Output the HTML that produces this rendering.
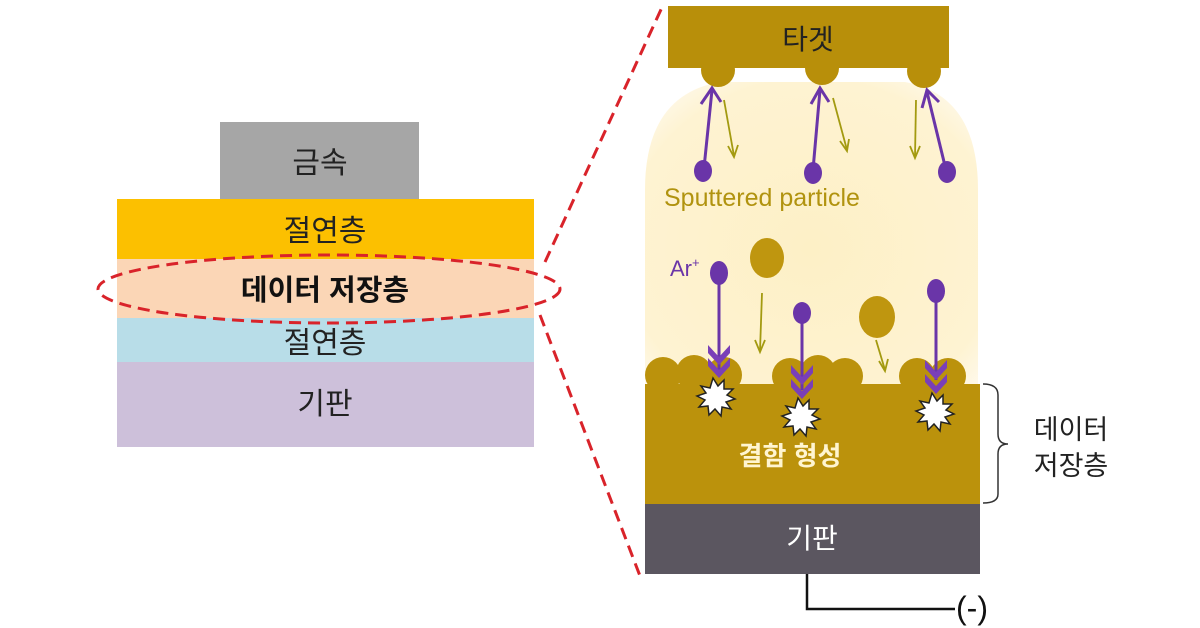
<!DOCTYPE html>
<html><head><meta charset="utf-8"><style>
html,body{margin:0;padding:0;background:#fff;}
svg{display:block;font-family:"Liberation Sans","Noto Sans CJK KR",sans-serif;}
</style></head><body>
<svg width="1200" height="628" viewBox="0 0 1200 628" xmlns="http://www.w3.org/2000/svg">
<defs>
<radialGradient id="pl" cx="0.5" cy="0.55" r="0.7">
<stop offset="0" stop-color="#fdf0c6"/><stop offset="0.8" stop-color="#fef3d2"/><stop offset="1" stop-color="#fffaf0"/>
</radialGradient>
</defs>
<!-- left stack -->
<rect x="220" y="122" width="199" height="77" fill="#a6a6a6"/>
<text x="320" y="173" font-size="30" text-anchor="middle" fill="#222">금속</text>
<rect x="117" y="199" width="417" height="60" fill="#fcc000"/>
<text x="325" y="241" font-size="30" text-anchor="middle" fill="#222">절연층</text>
<rect x="117" y="259" width="417" height="59" fill="#fbd6b6"/>
<text x="325" y="300" font-size="29" font-weight="bold" text-anchor="middle" fill="#111">데이터 저장층</text>
<rect x="117" y="318" width="417" height="44" fill="#b8dde8"/>
<text x="325" y="353" font-size="30" text-anchor="middle" fill="#222">절연층</text>
<rect x="117" y="362" width="417" height="85" fill="#cdc0da"/>
<text x="325" y="414" font-size="30" text-anchor="middle" fill="#222">기판</text>
<ellipse cx="329" cy="289" rx="231" ry="34" fill="none" stroke="#d9232a" stroke-width="3" stroke-dasharray="12,7"/>
<line x1="545" y1="262" x2="664" y2="3" stroke="#d9232a" stroke-width="3" stroke-dasharray="12,7"/>
<line x1="540" y1="315" x2="640" y2="576" stroke="#d9232a" stroke-width="3" stroke-dasharray="12,7"/>
<!-- plasma -->
<path d="M645,385 L645,190 Q645,95 720,82 L905,82 Q978,95 978,190 L978,385 Z" fill="url(#pl)"/>
<!-- target -->
<circle cx="718" cy="70" r="17" fill="#b88f0a"/>
<circle cx="822" cy="68" r="17" fill="#b88f0a"/>
<circle cx="924" cy="71" r="17" fill="#b88f0a"/>
<rect x="668" y="6" width="281" height="62" fill="#b88f0a"/>
<text x="808" y="49" font-size="28" text-anchor="middle" fill="#222">타겟</text>
<!-- upward purple arrows -->
<g stroke="#6a35a8" stroke-width="3" fill="none">
<line x1="704" y1="168" x2="712" y2="90"/><path d="M701,104 L712,88 L721,102"/>
<line x1="813" y1="170" x2="820" y2="90"/><path d="M811,104 L820,88 L829,102"/>
<line x1="946" y1="170" x2="927" y2="92"/><path d="M922,108 L927,90 L939,102"/>
</g>
<g fill="#6a35a8">
<ellipse cx="703" cy="171" rx="9" ry="11"/><ellipse cx="813" cy="173" rx="9" ry="11"/><ellipse cx="947" cy="172" rx="9" ry="11"/>
</g>
<g stroke="#a39a10" stroke-width="1.8" fill="none">
<line x1="724" y1="100" x2="734" y2="156"/><path d="M728,146 L734,157 L738,145"/>
<line x1="833" y1="98" x2="847" y2="150"/><path d="M840,141 L847,151 L849,139"/>
<line x1="916" y1="100" x2="915" y2="157"/><path d="M910,146 L915,158 L920,146"/>
<line x1="762" y1="293" x2="760" y2="351"/><path d="M755,340 L760,352 L765,340"/>
<line x1="876" y1="340" x2="885" y2="370"/><path d="M879,361 L885,371 L888,359"/>
</g>
<text x="664" y="206" font-size="25" fill="#b1930f">Sputtered particle</text>
<text x="670" y="276" font-size="22" fill="#6a35a8">Ar<tspan font-size="13" dy="-9">+</tspan></text>
<ellipse cx="767" cy="258" rx="17" ry="20" fill="#bf960f"/>
<ellipse cx="877" cy="317" rx="18" ry="21" fill="#bf960f"/>
<!-- layer -->
<g fill="#bb920c">
<rect x="645" y="384" width="335" height="121"/>
<circle cx="663" cy="375" r="18"/><circle cx="694" cy="373" r="18"/><circle cx="724" cy="375" r="18"/>
<circle cx="790" cy="376" r="18"/><circle cx="818" cy="373" r="18"/><circle cx="845" cy="376" r="18"/>
<circle cx="917" cy="376" r="18"/><circle cx="948" cy="376" r="18"/>
</g>
<!-- downward Ar -->
<g stroke="#6a35a8" stroke-width="3" fill="none">
<line x1="719" y1="280" x2="719" y2="370"/><line x1="802" y1="320" x2="802" y2="390"/><line x1="936" y1="300" x2="936" y2="380"/>
</g>
<g fill="#7a3fb8">
<path d="M708,345 L719,357 L730,345 L730,353 L719,365 L708,353Z"/><path d="M708,358 L719,370 L730,358 L730,366 L719,378 L708,366Z"/>
<path d="M791,365 L802,377 L813,365 L813,373 L802,385 L791,373Z"/><path d="M791,379 L802,391 L813,379 L813,387 L802,399 L791,387Z"/>
<path d="M925,360 L936,372 L947,360 L947,368 L936,380 L925,368Z"/><path d="M925,374 L936,386 L947,374 L947,382 L936,394 L925,382Z"/>
</g>
<g fill="#6a35a8">
<ellipse cx="719" cy="273" rx="9" ry="12"/><ellipse cx="802" cy="313" rx="9" ry="11"/><ellipse cx="936" cy="291" rx="9" ry="12"/>
</g>
<!-- starbursts -->
<g fill="#fff" stroke="#222" stroke-width="1.5">
<path d="M713,378 l5,8 l6,-6 l0,9 l9,0 l-6,6 l8,4 l-9,3 l5,7 l-9,-2 l-1,9 l-6,-7 l-6,6 l-1,-9 l-9,1 l6,-7 l-8,-4 l9,-3 l-5,-7 l9,2z"/>
<path d="M798,398 l5,8 l6,-6 l0,9 l9,0 l-6,6 l8,4 l-9,3 l5,7 l-9,-2 l-1,9 l-6,-7 l-6,6 l-1,-9 l-9,1 l6,-7 l-8,-4 l9,-3 l-5,-7 l9,2z"/>
<path d="M932,393 l5,8 l6,-6 l0,9 l9,0 l-6,6 l8,4 l-9,3 l5,7 l-9,-2 l-1,9 l-6,-7 l-6,6 l-1,-9 l-9,1 l6,-7 l-8,-4 l9,-3 l-5,-7 l9,2z"/>
</g>
<text x="790" y="465" font-size="26" font-weight="bold" text-anchor="middle" fill="#fff5d0">결함 형성</text>
<!-- substrate -->
<rect x="645" y="504" width="335" height="70" fill="#5b5660"/>
<text x="812" y="548" font-size="28" text-anchor="middle" fill="#fff">기판</text>
<path d="M807,574 L807,609 L955,609" fill="none" stroke="#111" stroke-width="2.5"/>
<text x="972" y="619" font-size="32" text-anchor="middle" fill="#111">(-)</text>
<!-- brace -->
<path d="M983,384 Q998,384 998,395 L998,434 Q998,444 1008,444 Q998,444 998,454 L998,494 Q998,503 983,503" fill="none" stroke="#333" stroke-width="1.5"/>
<text x="1071" y="439" font-size="27" text-anchor="middle" fill="#222">데이터</text>
<text x="1071" y="475" font-size="27" text-anchor="middle" fill="#222">저장층</text>
</svg>
</body></html>
